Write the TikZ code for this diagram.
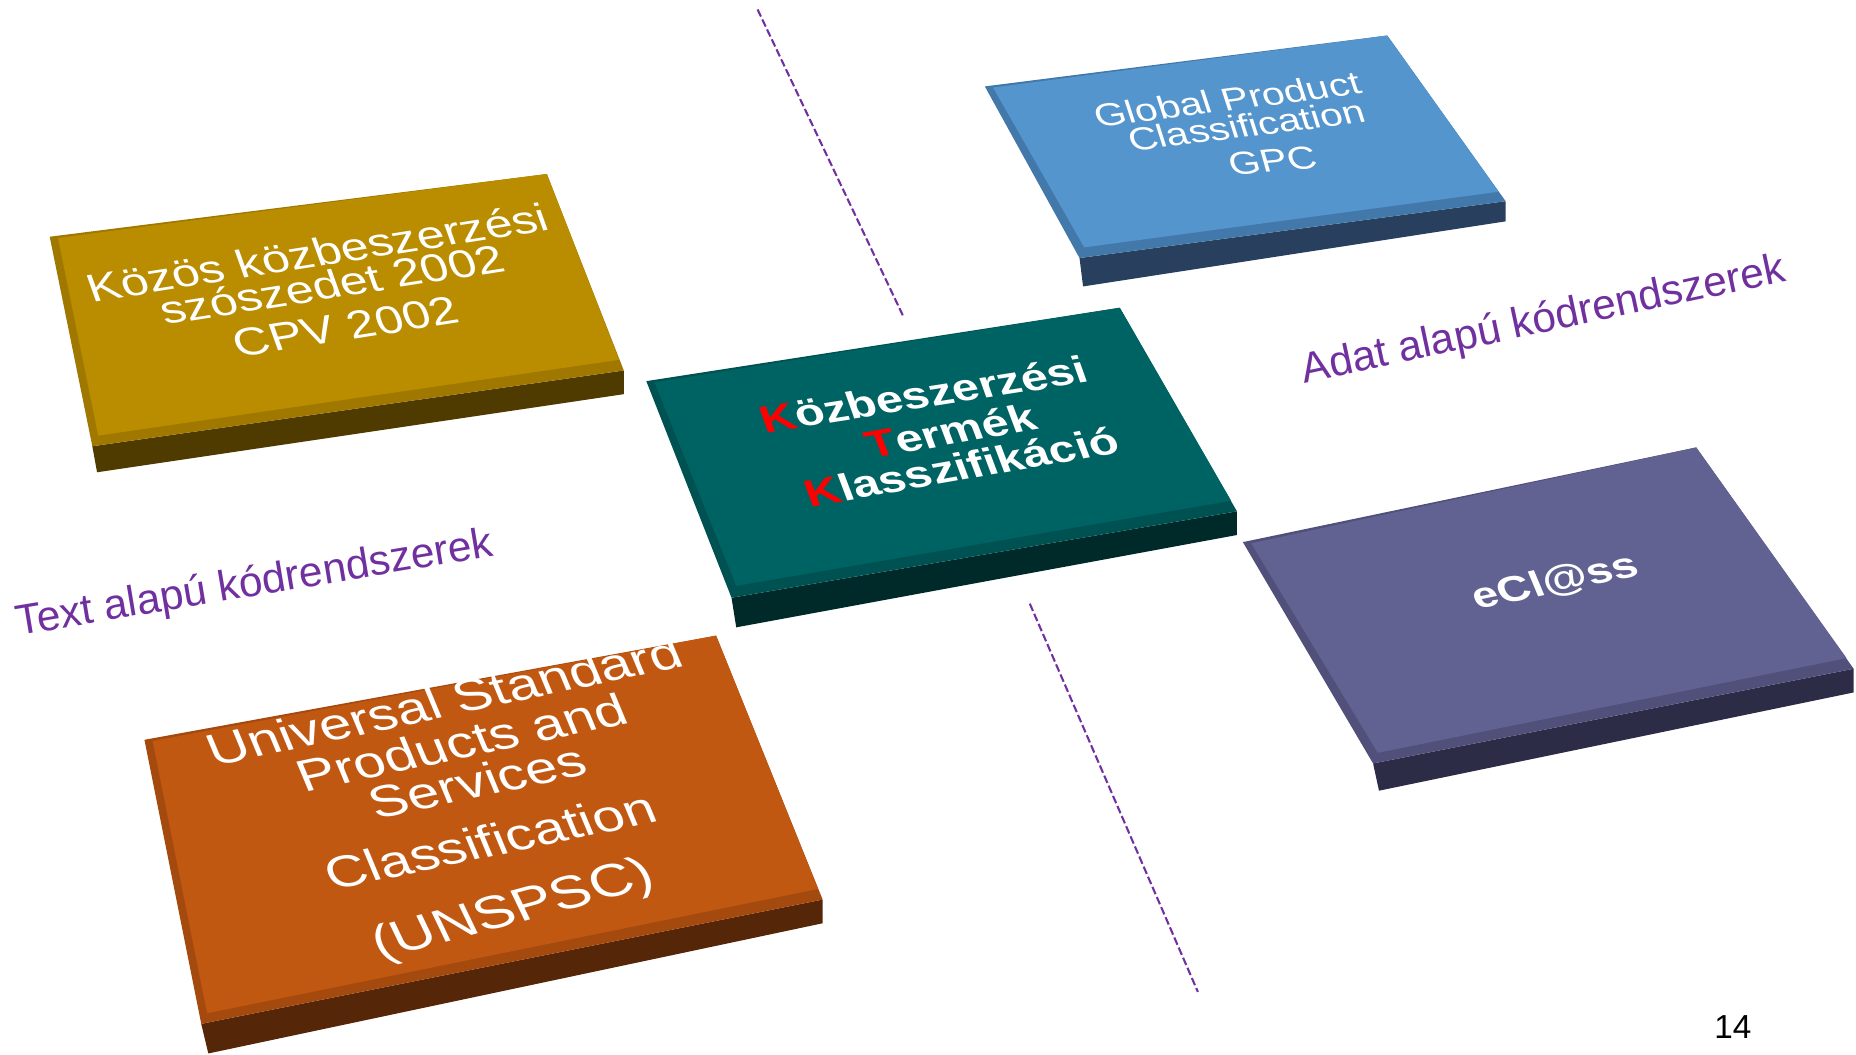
\documentclass[tikz,border=0pt]{standalone}
\usepackage{fontspec}
\setmainfont{Liberation Sans}

\begin{document}
\begin{tikzpicture}[x=0.02cm, y=-0.02cm]
% Colors
\definecolor{goldTop}{RGB}{186,140,0}
\definecolor{goldBevel}{RGB}{160,120,0}
\definecolor{goldSide}{RGB}{79,58,0}
\definecolor{tealTop}{RGB}{0,99,99}
\definecolor{tealBevel}{RGB}{0,82,82}
\definecolor{tealSide}{RGB}{0,42,42}
\definecolor{blueTop}{RGB}{85,149,205}
\definecolor{blueBevel}{RGB}{66,120,170}
\definecolor{blueSide}{RGB}{40,64,94}
\definecolor{violetTop}{RGB}{98,98,146}
\definecolor{violetBevel}{RGB}{80,80,122}
\definecolor{violetSide}{RGB}{44,44,70}
\definecolor{orangeTop}{RGB}{192,88,18}
\definecolor{orangeBevel}{RGB}{165,74,14}
\definecolor{orangeSide}{RGB}{86,38,8}
\definecolor{labelColor}{RGB}{112,48,160}
% Styles
\tikzset{
  slabtext/.style={rotate=#1, yscale=0.8, xslant=-0.15, inner sep=0pt, text=white},
  divider/.style={labelColor, line width=1pt, dash pattern=on 3.8pt off 1.5pt},
  sidelabel/.style={rotate=#1, anchor=base west, inner sep=0pt, text=labelColor,
    font=\fontsize{20.4}{24}\selectfont}
}
\useasboundingbox (0,0) rectangle (1568,891);
% Dashed dividers
\coordinate (upperTop) at (640,8);
\coordinate (upperEnd) at (763,267);
\coordinate (lowerTop) at (870,510);
\coordinate (lowerEnd) at (1012,838);
\draw[divider] (upperTop) -- (upperEnd);
\draw[divider] (lowerTop) -- (lowerEnd);
% Gold slab (CPV)
\begin{scope}
	\fill[goldSide] (78,377) -- (527,313) -- (527,333) -- (82,399) -- cycle;
	\fill[goldBevel]( 42,200) % TL
	  -- (462,147) % TR
	  -- (527,313) % BR
	  -- ( 78,377) % BL
	  -- cycle;
	\fill[goldTop]( 49,201)
	  -- (462,147)
	  -- (523,304)
	  -- ( 83,368)
	  -- cycle;
\end{scope}
\begin{scope}[font=\fontsize{23.8}{28}\selectfont]
	\node[slabtext=9] (gold1) at (268,213) {Közös közbeszerzési};
	\node[slabtext=9] (gold2) at (280,240) {szószedet 2002};
	\node[slabtext=9] (gold3) at (292,276) {CPV 2002};
\end{scope}
% Blue slab (GPC)
\begin{scope}
	\fill[blueSide] (912,218) -- (1272,170) -- (1272,187) -- (915,242) -- cycle;
	\fill[blueBevel]( 832, 73) % TL
	  -- (1172, 30) % TR
	  -- (1272,170) % BR
	  -- ( 912,218) % BL
	  -- cycle;
	\fill[blueTop]( 839, 74)
	  -- (1172, 30)
	  -- (1266,162)
	  -- ( 916,209)
	  -- cycle;
\end{scope}
\begin{scope}[font=\fontsize{19.4}{23}\selectfont]
	\node[slabtext=7.5] (gpc1) at (1037, 84) {Global Product};
	\node[slabtext=7] (gpc2) at (1053,106) {Classification};
	\node[slabtext=5] (gpc3) at (1075,136) {GPC};
\end{scope}
% Teal slab (KTK)
\begin{scope}
	\fill[tealSide] (618,505) -- (1045,432) -- (1045,452) -- (622,530) -- cycle;
	\fill[tealBevel]( 546,322) % TL
	  -- ( 946,260) % TR
	  -- (1045,432) % BR
	  -- ( 618,505) % BL
	  -- cycle;
	\fill[tealTop]( 553,323)
	  -- ( 946,260)
	  -- (1040,423)
	  -- ( 622,495)
	  -- cycle;
\end{scope}
\begin{scope}[font=\bfseries\fontsize{23}{27}\selectfont]
	\node[slabtext=9] (ktk1) at (780,333) {\textcolor{red}{K}özbeszerzési};
	\node[slabtext=10] (ktk2) at (803,364) {\textcolor{red}{T}ermék};
	\node[slabtext=10] (ktk3) at (812,394) {\textcolor{red}{K}lasszifikáció};
\end{scope}
% Violet slab (eCl@ss)
\begin{scope}
	\fill[violetSide] (1160,645) -- (1566,565) -- (1566,585) -- (1165,668) -- cycle;
	\fill[violetBevel]( 1050,458) % TL
	  -- (1433,378) % TR
	  -- (1566,565) % BR
	  -- (1160,645) % BL
	  -- cycle;
	\fill[violetTop]( 1057,459)
	  -- (1433,378)
	  -- (1560,556)
	  -- (1164,636)
	  -- cycle;
\end{scope}
\node[slabtext=12, font=\bfseries\fontsize{22}{26}\selectfont] (eclass) at (1314,492) {eCl@ss};
% Orange slab (UNSPSC)
\begin{scope}
	\fill[orangeSide] (170,865) -- (695,760) -- (695,780) -- (176,890) -- cycle;
	\fill[orangeBevel]( 122,625) % TL
	  -- (605,537) % TR
	  -- (695,760) % BR
	  -- (170,865) % BL
	  -- cycle;
	\fill[orangeTop]( 129,626)
	  -- (605,537)
	  -- (691,751)
	  -- (175,856)
	  -- cycle;
\end{scope}
\begin{scope}[font=\fontsize{27.3}{32}\selectfont]
	\node[slabtext=12] (uns1) at (375,592) {Universal Standard};
	\node[slabtext=12] (uns2) at (390,627) {Products and};
	\node[slabtext=12] (uns3) at (403,660) {Services};
	\node[slabtext=12] (uns4) at (414,710) {Classification};
	\node[slabtext=15, font=\fontsize{28.5}{33}\selectfont] (uns5) at (434,770) {(UNSPSC)};
\end{scope}
% Side labels
\node[sidelabel=9.5] (textLabel) at (15,537) {Text alapú kódrendszerek};
\node[sidelabel=12] (dataLabel) at (1102,324) {Adat alapú kódrendszerek};
% Page number
\node[font=\fontsize{16}{19}\selectfont] (pageNo) at (1464,868) {14};
\end{tikzpicture}
\end{document}
